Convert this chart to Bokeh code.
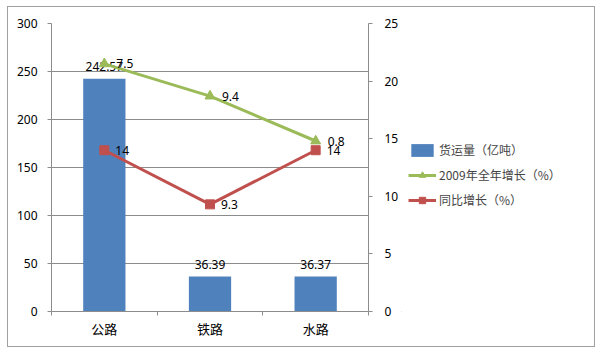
import numpy as np
from bokeh.plotting import figure
from bokeh.layouts import row
from bokeh.models import (Range1d, LinearAxis, FixedTicker, Legend, LegendItem,
                          ColumnDataSource)
from bokeh.embed import file_html
from bokeh.resources import INLINE
from bokeh.core.properties import value

categories = ["公路", "铁路", "水路"]
freight = [242.57, 36.39, 36.37]          # 货运量（亿吨）
growth_2009 = [7.5, 9.4, 0.8]             # 2009年全年增长（%） (stacked line)
yoy_growth = [14, 9.3, 14]                # 同比增长（%）
left_ticks = [0, 50, 100, 150, 200, 250, 300]
right_ticks = [0, 5, 10, 15, 20, 25]
series_names = ["货运量（亿吨）", "2009年全年增长（%）", "同比增长（%）"]

BLUE = "#4F81BD"
GREEN = "#9BBB59"
RED = "#C0504D"
GRID = "#8C8C8C"
FONT_NUM = "Noto Sans"
FONT_CJK = "Noto Sans CJK SC"

x = np.arange(len(categories)) + 0.5
stacked_green = np.array(yoy_growth) + np.array(growth_2009)

src = ColumnDataSource(dict(
    x=x, freight=freight, freight_lbl=[f"{v:.2f}" for v in freight],
    red=yoy_growth, red_lbl=[f"{v:g}" for v in yoy_growth],
    green=stacked_green, green_lbl=[f"{v:g}" for v in growth_2009],
))

p = figure(frame_width=317, frame_height=288, output_backend="svg",
           toolbar_location=None,
           x_range=Range1d(0, 3), y_range=Range1d(0, 300),
           min_border_left=43, min_border_right=0, min_border_top=16,
           min_border_bottom=35, outline_line_color=None,
           background_fill_color="white", border_fill_color="white")
p.extra_y_ranges = {"pct": Range1d(0, 25)}

# axes
p.xaxis.ticker = FixedTicker(ticks=list(x), minor_ticks=[0, 1, 2, 3])
p.xaxis.major_label_overrides = {float(v): c for v, c in zip(x, categories)}
p.xaxis.major_tick_line_color = None
p.xaxis.minor_tick_in = 0
p.xaxis.minor_tick_out = 4
p.xaxis.minor_tick_line_color = GRID
p.xaxis.axis_line_color = GRID
p.xaxis.major_label_text_font = FONT_CJK
p.xaxis.major_label_text_font_size = "13px"
p.xaxis.major_label_text_color = "black"
p.xaxis.major_label_standoff = 1

p.yaxis.ticker = FixedTicker(ticks=left_ticks)
p.yaxis.minor_tick_line_color = None
p.yaxis.major_tick_in = 0
p.yaxis.major_tick_out = 4
p.yaxis.major_tick_line_color = GRID
p.yaxis.axis_line_color = GRID
p.yaxis.major_label_text_font = FONT_NUM
p.yaxis.major_label_text_font_size = "12px"
p.yaxis.major_label_text_color = "black"
p.yaxis.major_label_standoff = 10

ax_r = LinearAxis(y_range_name="pct", ticker=FixedTicker(ticks=right_ticks))
ax_r.minor_tick_line_color = None
ax_r.major_tick_in = 0
ax_r.major_tick_out = 4
ax_r.major_tick_line_color = GRID
ax_r.axis_line_color = GRID
ax_r.major_label_text_font = FONT_NUM
ax_r.major_label_text_font_size = "12px"
ax_r.major_label_text_color = "black"
ax_r.major_label_standoff = 12
p.add_layout(ax_r, "right")

p.xgrid.grid_line_color = None
p.ygrid.ticker = FixedTicker(ticks=left_ticks)
p.ygrid.grid_line_color = GRID

# bars
p.vbar(x="x", top="freight", width=0.4, source=src, fill_color=BLUE,
       line_color=None)
p.text(x="x", y="freight", text="freight_lbl", source=src, y_offset=-8,
       text_align="center", text_baseline="bottom", text_font=value(FONT_NUM),
       text_font_size="12px", text_color="black")

# red line
p.line(x="x", y="red", source=src, y_range_name="pct", line_color=RED,
       line_width=3)
p.scatter(x="x", y="red", source=src, y_range_name="pct", marker="square",
          size=9, fill_color=RED, line_color=RED)

# green line (stacked on red)
p.line(x="x", y="green", source=src, y_range_name="pct", line_color=GREEN,
       line_width=3)
p.scatter(x="x", y="green", source=src, y_range_name="pct",
          marker="triangle", size=10, fill_color=GREEN, line_color=GREEN)

p.text(x="x", y="red", text="red_lbl", source=src, y_range_name="pct",
       x_offset=11, text_align="left", text_baseline="middle",
       text_font=value(FONT_NUM), text_font_size="12px", text_color="black")
p.text(x="x", y="green", text="green_lbl", source=src, y_range_name="pct",
       x_offset=12, text_align="left", text_baseline="middle",
       text_font=value(FONT_NUM), text_font_size="12px", text_color="black")

# legend panel (separate figure so it is not clipped); its glyphs use the
# same data but its ranges keep them out of view, so only the legend shows
lf = figure(width=193, height=339, output_backend="svg", toolbar_location=None,
            min_border=0, outline_line_color=None, x_range=Range1d(100, 101),
            y_range=Range1d(1000, 1001), background_fill_color="white",
            border_fill_color="white")
lf.axis.visible = False
lf.grid.visible = False
lb = lf.vbar(x="x", top="freight", width=0.4, source=src, fill_color=BLUE,
             line_color=None)
lgl = lf.line(x="x", y="green", source=src, line_color=GREEN, line_width=3)
lgm = lf.scatter(x="x", y="green", source=src, marker="triangle", size=9,
                 fill_color=GREEN, line_color=GREEN)
lrl = lf.line(x="x", y="red", source=src, line_color=RED, line_width=3)
lrm = lf.scatter(x="x", y="red", source=src, marker="square", size=8,
                 fill_color=RED, line_color=RED)
legend = Legend(items=[
    LegendItem(label=series_names[0], renderers=[lb]),
    LegendItem(label=series_names[1], renderers=[lgl, lgm]),
    LegendItem(label=series_names[2], renderers=[lrl, lrm]),
], location=(7, 103), border_line_color=None, background_fill_alpha=0,
    label_text_font=FONT_CJK, label_text_font_size="12px", spacing=8,
    glyph_width=28, glyph_height=16, label_standoff=3, padding=0, margin=0)
lf.add_layout(legend, "center")

layout = row(p, lf, margin=(6, 0, 0, 7),
             styles={"border": "1px solid #A0A0A0"})

open("out.html", "w").write(file_html(layout, INLINE))
